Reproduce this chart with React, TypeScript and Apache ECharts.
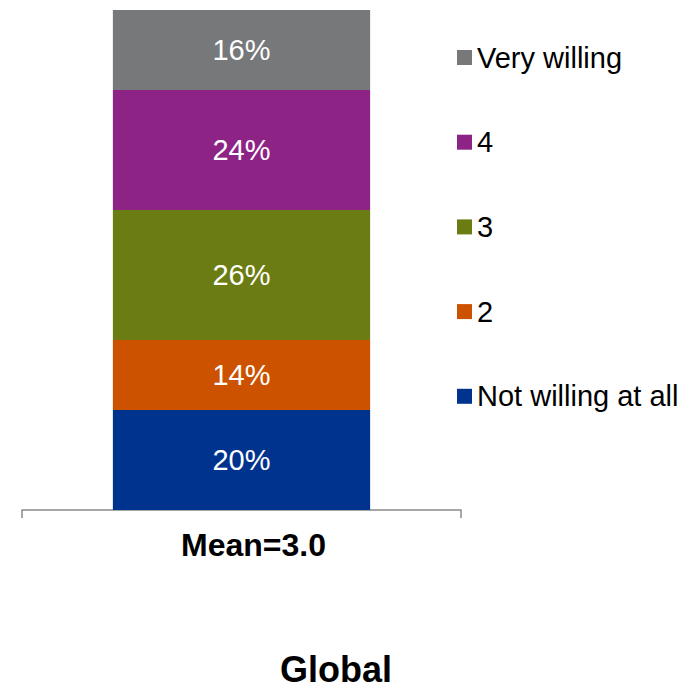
import React, { useEffect, useRef } from "react";
import * as echarts from "echarts";

// Willingness scale, bottom to top of the stack
const seriesNames = ["Not willing at all", "2", "3", "4", "Very willing"];
const seriesValues = [20, 14, 26, 24, 16];
const seriesColors = ["#00338D", "#CC5200", "#6B7D12", "#8C2385", "#77787A"];
const categories = ["Mean=3.0"];
const legendOrder = ["Very willing", "4", "3", "2", "Not willing at all"];
const footerTitle = "Global";

const FONT = "'Liberation Sans', Arial, sans-serif";

export default function App() {
  const ref = useRef<HTMLDivElement>(null);

  useEffect(() => {
    document.body.style.margin = "0";
    const chart = echarts.init(ref.current!, null, { renderer: "svg" });
    chart.setOption({
      animation: false,
      textStyle: { fontFamily: FONT },
      grid: { left: 22, top: 10, width: 439, height: 500, containLabel: false },
      xAxis: {
        type: "category",
        data: categories,
        axisLine: { lineStyle: { color: "#8A8A8A", width: 1.5 } },
        axisTick: { show: true, length: 8, lineStyle: { color: "#8A8A8A", width: 1.5 } },
        axisLabel: {
          color: "#000",
          fontSize: 32,
          fontWeight: "bold",
          fontFamily: FONT,
          margin: 19,
          padding: [0, 0, 0, 24],
        },
      },
      yAxis: { type: "value", min: 0, max: 100, show: false, splitLine: { show: false } },
      legend: {
        orient: "vertical",
        left: 452,
        top: 37,
        itemWidth: 15,
        itemHeight: 15,
        itemGap: 53.7,
        icon: "rect",
        data: legendOrder,
        textStyle: { color: "#000", fontSize: 29, fontFamily: FONT, lineHeight: 31, padding: [0, 0, 0, 0] },
      },
      series: seriesNames.map((name, i) => ({
        name,
        type: "bar",
        stack: "total",
        barWidth: "58.6%",
        data: [seriesValues[i]],
        itemStyle: { color: seriesColors[i] },
        label: {
          show: true,
          position: "inside",
          formatter: "{c}%",
          color: "#fff",
          fontSize: 29,
          fontFamily: FONT,
        },
      })),
      graphic: [
        {
          type: "text",
          x: 336,
          y: 669,
          style: {
            text: footerTitle,
            fill: "#000",
            fontSize: 36,
            fontWeight: "bold",
            fontFamily: FONT,
            textAlign: "center",
            textVerticalAlign: "middle",
          },
        },
      ],
    });
    return () => chart.dispose();
  }, []);

  return <div ref={ref} style={{ width: 685, height: 691 }} />;
}
